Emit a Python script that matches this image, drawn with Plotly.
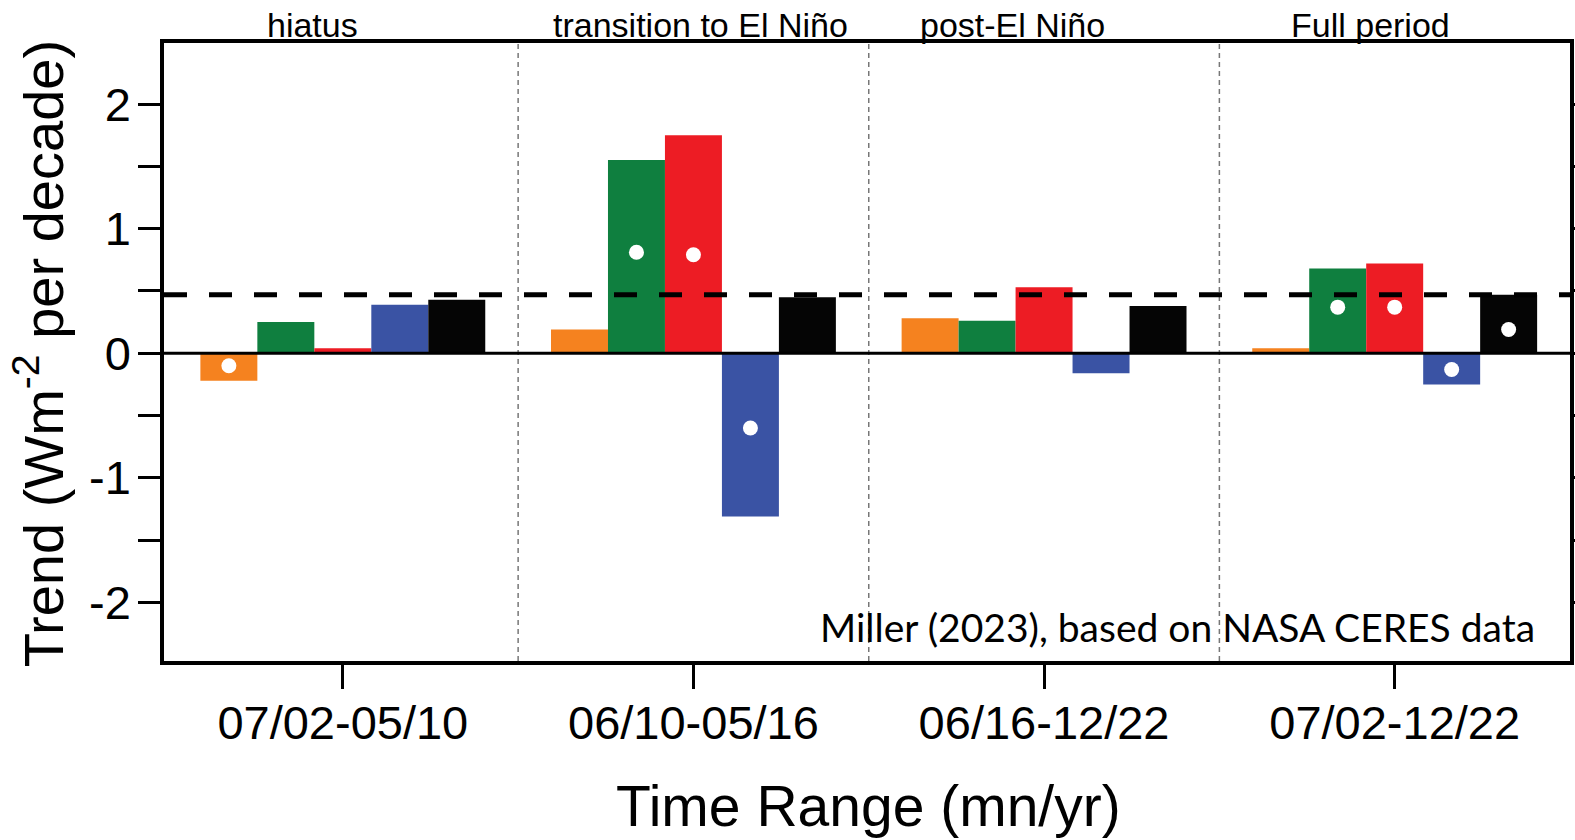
import plotly.graph_objects as go

# ---------------- data ----------------
time_ranges = ["07/02-05/10", "06/10-05/16", "06/16-12/22", "07/02-12/22"]
period_names = ["hiatus", "transition to El Niño", "post-El Niño", "Full period"]

orange_trend = [-0.22, 0.19, 0.28, 0.04]
green_trend = [0.25, 1.55, 0.26, 0.68]
red_trend = [0.04, 1.75, 0.53, 0.72]
blue_trend = [0.39, -1.31, -0.16, -0.25]
black_trend = [0.43, 0.45, 0.38, 0.47]

orange_dot = [-0.10, None, None, None]
green_dot = [None, 0.81, None, 0.37]
red_dot = [None, 0.79, None, 0.37]
blue_dot = [None, -0.60, None, -0.13]
black_dot = [None, None, None, 0.19]

reference_trend = 0.47

y_tick_vals = [-2, -1.5, -1, -0.5, 0, 0.5, 1, 1.5, 2]
y_tick_text = ["-2", "", "-1", "", "0", "", "1", "", "2"]

# ---------------- styling ----------------
colors = ["#F5821F", "#0F7F3F", "#ED1C24", "#3A53A4", "#050505"]
bar_series = [orange_trend, green_trend, red_trend, blue_trend, black_trend]
dot_series = [orange_dot, green_dot, red_dot, blue_dot, black_dot]
series_names = ["orange", "green", "red", "blue", "black"]

FONT = "Liberation Sans, Arial, sans-serif"

bargap = 0.1875
n = len(bar_series)
bar_w = (1 - bargap) / n
xpos = list(range(len(time_ranges)))

fig = go.Figure()
for name, vals, col in zip(series_names, bar_series, colors):
    fig.add_trace(go.Bar(x=xpos, y=vals, name=name, marker=dict(color=col, line=dict(width=0)),
                         showlegend=False))

for k, (name, dots) in enumerate(zip(series_names, dot_series)):
    off = (k - (n - 1) / 2) * bar_w
    xs = [i + off for i, v in enumerate(dots) if v is not None]
    ys = [v for v in dots if v is not None]
    fig.add_trace(go.Scatter(x=xs, y=ys, mode="markers", name=name + " sig",
                             marker=dict(color="white", size=15, line=dict(width=0)),
                             showlegend=False))

shapes = []
shapes.append(dict(type="line", xref="paper", x0=0, x1=1, yref="y", y0=0, y1=0,
                   line=dict(color="black", width=3)))
shapes.append(dict(type="line", xref="paper", x0=0, x1=1, yref="y", y0=reference_trend, y1=reference_trend,
                   line=dict(color="black", width=5, dash="23px,22px")))
for i in range(len(time_ranges) - 1):
    shapes.append(dict(type="line", xref="x", x0=i + 0.5, x1=i + 0.5, yref="paper", y0=0, y1=1,
                       line=dict(color="#777777", width=1.5, dash="5px,4px"), layer="below"))

annotations = []
period_label_x = [-0.086, 1.02, 1.91, 2.93]
for name, px in zip(period_names, period_label_x):
    annotations.append(dict(text=name, x=px, xref="x", y=1, yref="paper", yanchor="bottom",
                            xanchor="center", showarrow=False, yshift=-3,
                            font=dict(family=FONT, size=34, color="black")))

annotations.append(dict(text="Time Range (mn/yr)", x=0.501, xref="paper", y=-0.2346, yref="paper",
                        xanchor="center", yanchor="middle", showarrow=False,
                        font=dict(family=FONT, size=57, color="black")))
annotations.append(dict(text="Trend (Wm<sup>-2</sup> per decade)", x=-0.088, xref="paper", y=0.497,
                        yref="paper", xanchor="center", yanchor="middle", textangle=-90, showarrow=False,
                        font=dict(family=FONT, size=56, color="black")))
annotations.append(dict(text="Miller (2023), based on NASA CERES data", x=0.9765, xref="paper",
                        y=0.055, yref="paper", xanchor="right", yanchor="middle", showarrow=False,
                        font=dict(family="Lato, Open Sans, sans-serif", size=39, color="black")))

fig.update_layout(
    width=1575, height=840, autosize=False,
    margin=dict(l=164, r=5, t=43, b=179, pad=0),
    plot_bgcolor="white", paper_bgcolor="white",
    barmode="group", bargap=bargap, bargroupgap=0,
    shapes=shapes, annotations=annotations,
    font=dict(family=FONT, color="black"),
)
fig.update_xaxes(range=[-0.51, 3.5], tickvals=xpos, ticktext=time_ranges, automargin=False,
                 showline=True, linecolor="black", linewidth=3.5, mirror=True,
                 ticks="outside", ticklen=24, tickwidth=3, tickcolor="black", ticklabelstandoff=-6,
                 showgrid=False, zeroline=False, tickfont=dict(family=FONT, size=47, color="black"))
fig.update_yaxes(range=[-2.47, 2.49], tickvals=y_tick_vals, ticktext=y_tick_text, automargin=False,
                 showline=True, linecolor="black", linewidth=3.5, mirror="ticks",
                 ticks="outside", ticklen=22, tickwidth=3, tickcolor="black", ticklabelstandoff=-2,
                 showgrid=False, zeroline=False, tickfont=dict(family=FONT, size=47, color="black"))

fig.write_html("out.html",
               config={"displayModeBar": False, "responsive": False},
               default_width="1575px", default_height="840px",
               post_script="document.body.style.margin='0';document.body.style.overflow='hidden';")
